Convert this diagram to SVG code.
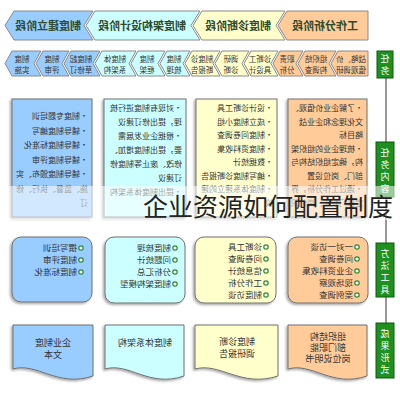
<svg xmlns="http://www.w3.org/2000/svg" width="400" height="400" viewBox="0 0 400 400">
<defs>
<filter id="sh" x="-10%" y="-10%" width="125%" height="125%"><feDropShadow dx="1.5" dy="1.5" stdDeviation="1" flood-color="#000" flood-opacity="0.35"/></filter>
</defs>
<style>
.t{font-family:"Noto Sans CJK SC","Noto Sans",sans-serif;fill:#333}
.bt{font-size:11px;font-weight:bold;fill:#2d4a2d;text-anchor:middle}
.st{font-size:7.5px;text-anchor:middle}
.ct{font-size:8px}
.mt{font-size:8.5px}
.rt{font-size:9px;text-anchor:middle}
.gl{fill:#1f8f1f;stroke:#0c5c0c;stroke-width:1}
.gt{font-size:9px;fill:#fff;text-anchor:middle}
.o{fill:#ffcc99}.y{fill:#ffffcc}.c{fill:#ccffff}.b{fill:#99ccff}
.bx{stroke:#707070;stroke-width:1}
.ch{stroke:#8a8a8a;stroke-width:1}
.dot{fill:#fff;stroke:#2a8a2a;stroke-width:1.2}
</style>
<rect width="400" height="400" fill="#fff"/>
<g id="diagram" transform="matrix(-1 0 0 1 400 0)">
<g id="connectors"><line x1="14" y1="78" x2="14" y2="323" stroke="#333" stroke-width="1"/></g>
<g id="phases">
<g id="phase1"><polygon class="o ch" points="32,11 113,11 122,25.5 113,40 32,40"/><text class="t bt" x="75" y="29.5">工作分析阶段</text></g>
<g id="phase2"><polygon class="y ch" points="115,11 198,11 207,25.5 198,40 115,40 124,25.5"/><text class="t bt" x="162" y="29.5">制度诊断阶段</text></g>
<g id="phase3"><polygon class="c ch" points="200,11 305,11 314,25.5 305,40 200,40 209,25.5"/><text class="t bt" x="258" y="29.5">制度架构设计阶段</text></g>
<g id="phase4"><polygon class="b ch" points="307,11 386,11 395,25.5 386,40 307,40 316,25.5"/><text class="t bt" x="352" y="29.5">制度建立阶段</text></g>
</g>
<g id="tasks">
<g id="task1"><polygon class="o ch" points="32,51 62,51 69,63.5 62,76 32,76"/><text class="t st" x="49" y="61.5">战略、价</text><text class="t st" x="49" y="72.5">值观调研</text></g>
<g id="task2"><polygon class="o ch" points="64,51 95,51 102,63.5 95,76 64,76 71,63.5"/><text class="t st" x="84" y="61.5">组织结</text><text class="t st" x="84" y="72.5">构调查</text></g>
<g id="task3"><polygon class="o ch" points="97,51 120,51 127,63.5 120,76 97,76 104,63.5"/><text class="t st" x="113" y="61.5">职责</text><text class="t st" x="113" y="72.5">分析</text></g>
<g id="task4"><polygon class="y ch" points="122,51 149,51 156,63.5 149,76 122,76 129,63.5"/><text class="t st" x="140" y="61.5">诊断工</text><text class="t st" x="140" y="72.5">具设计</text></g>
<g id="task5"><polygon class="y ch" points="151,51 178,51 185,63.5 178,76 151,76 158,63.5"/><text class="t st" x="169" y="61.5">调研</text><text class="t st" x="169" y="72.5">诊断</text></g>
<g id="task6"><polygon class="y ch" points="180,51 208,51 215,63.5 208,76 180,76 187,63.5"/><text class="t st" x="198" y="61.5">制度诊</text><text class="t st" x="198" y="72.5">断报告</text></g>
<g id="task7"><polygon class="c ch" points="210,51 233,51 240,63.5 233,76 210,76 217,63.5"/><text class="t st" x="226" y="61.5">制度</text><text class="t st" x="226" y="72.5">梳理</text></g>
<g id="task8"><polygon class="c ch" points="235,51 262,51 269,63.5 262,76 235,76 242,63.5"/><text class="t st" x="253" y="61.5">制度</text><text class="t st" x="253" y="72.5">框架</text></g>
<g id="task9"><polygon class="c ch" points="264,51 298,51 305,63.5 298,76 264,76 271,63.5"/><text class="t st" x="285" y="61.5">制度体</text><text class="t st" x="285" y="72.5">系架构</text></g>
<g id="task10"><polygon class="b ch" points="300,51 329,51 336,63.5 329,76 300,76 307,63.5"/><text class="t st" x="319" y="61.5">制度起</text><text class="t st" x="319" y="72.5">草修订</text></g>
<g id="task11"><polygon class="b ch" points="331,51 357,51 364,63.5 357,76 331,76 338,63.5"/><text class="t st" x="348" y="61.5">制度</text><text class="t st" x="348" y="72.5">评审</text></g>
<g id="task12"><polygon class="b ch" points="359,51 388,51 395,63.5 388,76 359,76 366,63.5"/><text class="t st" x="378" y="61.5">制度</text><text class="t st" x="378" y="72.5">实施</text></g>
</g>
<g id="labels">
<g id="label1"><rect class="gl" x="7" y="51" width="16" height="27"/><text class="t gt" x="15" y="62">任</text><text class="t gt" x="15" y="74">务</text></g>
<g id="label2"><rect class="gl" x="6" y="142" width="18" height="55"/><text class="t gt" x="15" y="156">任</text><text class="t gt" x="15" y="168">务</text><text class="t gt" x="15" y="180">内</text><text class="t gt" x="15" y="192">容</text></g>
<g id="label3"><rect class="gl" x="6" y="243" width="18" height="54"/><text class="t gt" x="15" y="257">方</text><text class="t gt" x="15" y="269">法</text><text class="t gt" x="15" y="281">工</text><text class="t gt" x="15" y="293">具</text></g>
<g id="label4"><rect class="gl" x="6" y="323" width="18" height="55"/><text class="t gt" x="15" y="337">成</text><text class="t gt" x="15" y="349">果</text><text class="t gt" x="15" y="361">形</text><text class="t gt" x="15" y="373">式</text></g>
</g>
<g id="content">
<g id="content1"><rect class="o bx" x="33" y="99" width="79" height="118" filter="url(#sh)"/>
<text class="t ct"><tspan x="37" y="111">•了解企业价值观、</tspan><tspan x="37" y="124.5">文化理念和企业战</tspan><tspan x="37" y="138">略目标</tspan><tspan x="37" y="151.5">•梳理企业的组织架</tspan><tspan x="37" y="165">构，确定组织结构与</tspan><tspan x="37" y="178.5">部门、岗位设置</tspan><tspan x="37" y="192">•通过工作分析，界</tspan><tspan x="37" y="205.5">定部门职能、岗位职</tspan></text></g>
<g id="content2"><rect class="y bx" x="123" y="99" width="81" height="118" filter="url(#sh)"/>
<text class="t ct"><tspan x="127" y="111">•设计诊断工具</tspan><tspan x="127" y="124.5">•成立制度小组</tspan><tspan x="127" y="138">•制度问卷调查</tspan><tspan x="127" y="151.5">•制度资料收集</tspan><tspan x="127" y="165">•数据统计</tspan><tspan x="127" y="178.5">•编写制度诊断报告</tspan><tspan x="127" y="192">•制度体系建立的建</tspan><tspan x="127" y="205.5">议</tspan></text></g>
<g id="content3"><rect class="c bx" x="214" y="99" width="82" height="118" filter="url(#sh)"/>
<text class="t ct"><tspan x="218" y="111">•对现有制度进行梳</tspan><tspan x="218" y="125">理，提出修订建议</tspan><tspan x="218" y="139">•根据企业发展需</tspan><tspan x="218" y="153">要，提出制度增加、</tspan><tspan x="218" y="167">修改、废止等制度修</tspan><tspan x="218" y="181">订建议</tspan><tspan x="218" y="195">•提出制度体系架构</tspan></text></g>
<g id="content4"><rect class="b bx" x="308" y="99" width="80" height="118" filter="url(#sh)"/>
<text class="t ct"><tspan x="312" y="119">•制度专题培训</tspan><tspan x="312" y="133.5">•辅导制度编写</tspan><tspan x="312" y="148">•辅导制度标准化</tspan><tspan x="312" y="162.5">•辅导制度评审</tspan><tspan x="312" y="177">•辅导制度颁布、实</tspan><tspan x="312" y="191.5">施、监督、执行、修</tspan><tspan x="312" y="206">订</tspan></text></g>
</g>
<g id="methods">
<g id="method1"><rect class="o bx" x="32" y="237" width="80" height="66" rx="9" filter="url(#sh)"/>
<circle class="dot" cx="43" cy="247" r="2.2"/><circle class="dot" cx="43" cy="259" r="2.2"/><circle class="dot" cx="43" cy="271" r="2.2"/><circle class="dot" cx="43" cy="283" r="2.2"/><circle class="dot" cx="43" cy="295" r="2.2"/>
<text class="t mt"><tspan x="47" y="250">一对一访谈</tspan><tspan x="47" y="262">问卷调查</tspan><tspan x="47" y="274">企业资料收集</tspan><tspan x="47" y="286">现场观察</tspan><tspan x="47" y="298">案例调查</tspan></text></g>
<g id="method2"><rect class="y bx" x="124" y="237" width="81" height="66" rx="9" filter="url(#sh)"/>
<circle class="dot" cx="134" cy="247" r="2.2"/><circle class="dot" cx="134" cy="259" r="2.2"/><circle class="dot" cx="134" cy="271" r="2.2"/><circle class="dot" cx="134" cy="283" r="2.2"/><circle class="dot" cx="134" cy="295" r="2.2"/>
<text class="t mt"><tspan x="138" y="250">诊断工具</tspan><tspan x="138" y="262">问卷调查</tspan><tspan x="138" y="274">信息统计</tspan><tspan x="138" y="286">工作分析</tspan><tspan x="138" y="298">制度访谈</tspan></text></g>
<g id="method3"><rect class="c bx" x="215" y="237" width="80" height="66" rx="9" filter="url(#sh)"/>
<circle class="dot" cx="225" cy="248" r="2.2"/><circle class="dot" cx="225" cy="260" r="2.2"/><circle class="dot" cx="225" cy="272" r="2.2"/><circle class="dot" cx="225" cy="284" r="2.2"/>
<text class="t mt"><tspan x="229" y="251">制度梳理</tspan><tspan x="229" y="263">问题统计</tspan><tspan x="229" y="275">分析汇总</tspan><tspan x="229" y="287">制度架构模型</tspan></text></g>
<g id="method4"><rect class="b bx" x="308" y="237" width="80" height="65" rx="9" filter="url(#sh)"/>
<circle class="dot" cx="319" cy="248" r="2.2"/><circle class="dot" cx="319" cy="260" r="2.2"/><circle class="dot" cx="319" cy="272" r="2.2"/>
<text class="t mt"><tspan x="323" y="251">撰写培训</tspan><tspan x="323" y="263">制度评审</tspan><tspan x="323" y="275">制度标准化</tspan></text></g>
</g>
<g id="results">
<g id="result1"><path class="o bx" d="M33 325H112V369C88 362 68 388 33 376Z" filter="url(#sh)"/><text class="t rt"><tspan x="72" y="340">组织结构</tspan><tspan x="72" y="351">部门职能</tspan><tspan x="72" y="362">岗位说明书</tspan></text></g>
<g id="result2"><path class="y bx" d="M122 325H205V369C180 362 159 388 122 376Z" filter="url(#sh)"/><text class="t rt"><tspan x="163" y="345">制度诊断</tspan><tspan x="163" y="357">调研报告</tspan></text></g>
<g id="result3"><path class="c bx" d="M216 325H295V369C271 362 251 388 216 376Z" filter="url(#sh)"/><text class="t rt"><tspan x="255" y="346">制度体系架构</tspan></text></g>
<g id="result4"><path class="b bx" d="M307 325H387V369C363 362 342 388 307 376Z" filter="url(#sh)"/><text class="t rt"><tspan x="347" y="346">企业制度</tspan><tspan x="347" y="358">文本</tspan></text></g>
</g>
</g>
<rect x="0" y="186" width="400" height="34" fill="#fff" fill-opacity="0.55"/>
<text x="143" y="216" font-family="'Noto Sans CJK SC','Noto Sans',sans-serif" font-size="25" fill="#222">企业资源如何配置制度</text>
</svg>
